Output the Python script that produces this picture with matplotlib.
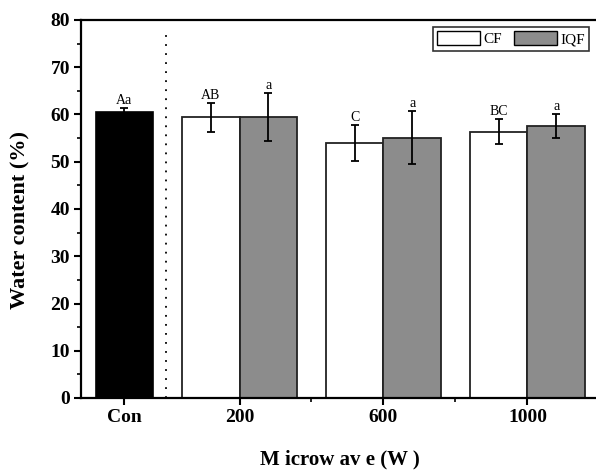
import numpy as np
import matplotlib.pyplot as plt
from matplotlib.patches import Patch

plt.rcParams['font.family'] = ['Liberation Serif', 'DejaVu Serif']

# data
groups = ['200', '600', '1000']
con_mean = 60.6
con_err = 0.8
cf_mean = [59.4, 54.0, 56.4]
cf_err = [3.1, 3.8, 2.7]
iqf_mean = [59.4, 55.1, 57.6]
iqf_err = [5.1, 5.6, 2.6]
con_label = 'Aa'
cf_labels = ['AB', 'C', 'BC']
iqf_labels = ['a', 'a', 'a']

fig = plt.figure(figsize=(5.96, 4.72), dpi=100)
ax = fig.add_axes([81 / 596, 1 - 398 / 472, 518 / 596, 378 / 472])

w = 0.4
xg = np.array([2, 3, 4])
con_x = 1.2

ax.bar(con_x, con_mean, w, color='black', edgecolor='black', linewidth=1.2)
ax.errorbar(con_x, con_mean, yerr=con_err, fmt='none', ecolor='black', capsize=3, elinewidth=1.3, capthick=1.3)
ax.bar(xg - w / 2, cf_mean, w, color='white', edgecolor='#222222', linewidth=1.3)
ax.bar(xg + w / 2, iqf_mean, w, color='#8c8c8c', edgecolor='#222222', linewidth=1.3)
ax.errorbar(xg - w / 2, cf_mean, yerr=cf_err, fmt='none', ecolor='black', capsize=3, elinewidth=1.3, capthick=1.3)
ax.errorbar(xg + w / 2, iqf_mean, yerr=iqf_err, fmt='none', ecolor='black', capsize=3, elinewidth=1.3, capthick=1.3)

# significance letters
ax.text(con_x, con_mean + con_err + 0.2, con_label, ha='center', va='bottom', fontsize=10)
for i in range(3):
    ax.text(xg[i] - w / 2, cf_mean[i] + cf_err[i] + 0.2, cf_labels[i], ha='center', va='bottom', fontsize=10)
    ax.text(xg[i] + w / 2, iqf_mean[i] + iqf_err[i] + 0.2, iqf_labels[i], ha='center', va='bottom', fontsize=10)

ax.plot([1.49, 1.49], [0, 78], linestyle=(0, (1, 4)), color='black', linewidth=1.3)

ax.set_xlim(0.899, 4.497)
ax.set_ylim(0, 80)
ax.set_xticks([con_x, 2, 3, 4])
ax.set_xticklabels(['Con'] + groups)
ax.set_xticks([2.5, 3.5], minor=True)
ax.set_yticks(np.arange(0, 81, 10))
ax.set_yticks(np.arange(5, 80, 10), minor=True)
ax.tick_params(which='major', direction='out', length=5, width=1.5, labelsize=14, pad=3)
ax.tick_params(which='minor', direction='out', length=3, width=1.2)
for lab in ax.get_xticklabels() + ax.get_yticklabels():
    lab.set_fontweight('bold')
for s in ax.spines.values():
    s.set_linewidth(1.6)
ax.spines['right'].set_visible(False)

ax.set_ylabel('Water content (%)', fontsize=16, fontweight='bold')
ax.yaxis.set_label_coords(-0.098, 0.47)
ax.set_xlabel('M icrow av e (W )', fontsize=15, fontweight='bold')
ax.xaxis.set_label_coords(0.5, -0.135)

handles = [Patch(facecolor='white', edgecolor='black', label='CF'),
           Patch(facecolor='#8c8c8c', edgecolor='black', label='IQF')]
leg = ax.legend(handles=handles, ncol=2, loc='upper right', bbox_to_anchor=(0.981, 0.982),
                fontsize=11, frameon=True, fancybox=False, handlelength=2.8, handleheight=1.0,
                handletextpad=0.2, columnspacing=0.8, borderpad=0.3, borderaxespad=0)
leg.get_frame().set_edgecolor('black')
leg.get_frame().set_linewidth(1.2)

fig.savefig('out.png', dpi=100)
